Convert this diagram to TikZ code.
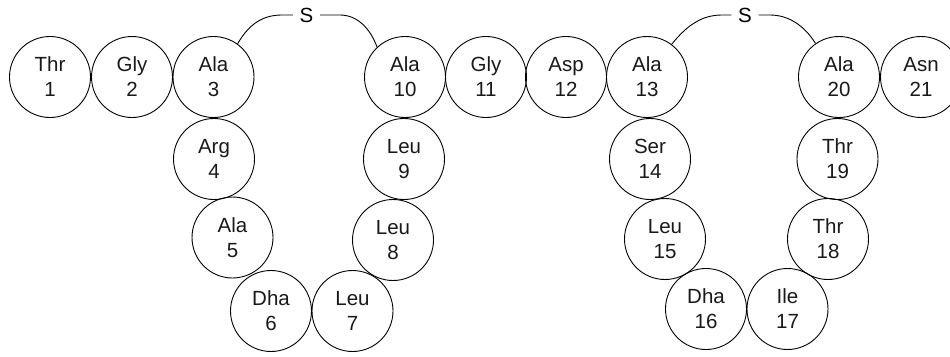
\documentclass[tikz,border=0pt]{standalone}
\usepackage{fontspec}
\setmainfont{Liberation Sans}
\begin{document}
\begin{tikzpicture}[x=1pt,y=-1pt,
  res/.style={draw, circle, line width=0.9pt, minimum size=81pt, inner sep=0pt, align=center,
    font=\fontsize{20.5}{25}\selectfont, text=black!90},
  sulf/.style={inner xsep=6.5pt, inner ysep=1.5pt, font=\fontsize{20.5}{25}\selectfont},
  link/.style={line width=0.9pt}]
\useasboundingbox (0,0) rectangle (950,356);
\node[res] (r1) at (50,77) {Thr\\1};
\node[res] (r2) at (132,77) {Gly\\2};
\node[res] (r3) at (213.5,77) {Ala\\3};
\node[res] (r4) at (214,159) {Arg\\4};
\node[res] (r5) at (232.5,237.5) {Ala\\5};
\node[res] (r6) at (271,311) {Dha\\6};
\node[res] (r7) at (352.5,311) {Leu\\7};
\node[res] (r8) at (393,240) {Leu\\8};
\node[res] (r9) at (404,159) {Leu\\9};
\node[res] (r10) at (405,77) {Ala\\10};
\node[res] (r11) at (486,77) {Gly\\11};
\node[res] (r12) at (566,77) {Asp\\12};
\node[res] (r13) at (647,77) {Ala\\13};
\node[res] (r14) at (650,159) {Ser\\14};
\node[res] (r15) at (665,239) {Leu\\15};
\node[res] (r16) at (706,309) {Dha\\16};
\node[res] (r17) at (787.5,309) {Ile\\17};
\node[res] (r18) at (828,239) {Thr\\18};
\node[res] (r19) at (837.5,159) {Thr\\19};
\node[res] (r20) at (839,77) {Ala\\20};
\node[res] (r21) at (921,77) {Asn\\21};
\node[sulf] (s1) at (306.5,15) {S};
\node[sulf] (s2) at (745,15) {S};
\draw[link] (r3.54) .. controls (250,22) and (265,15) .. (282,15) -- (s1.west |- 0,15);
\draw[link] (s1.east |- 0,15) -- (340,15) .. controls (357,15) and (370,28) .. (r10.133);
\draw[link] (r13.53) .. controls (688,24) and (703,15) .. (722,15) -- (s2.west |- 0,15);
\draw[link] (s2.east |- 0,15) -- (770,15) .. controls (788,15) and (804,25) .. (r20.125);
\end{tikzpicture}
\end{document}
